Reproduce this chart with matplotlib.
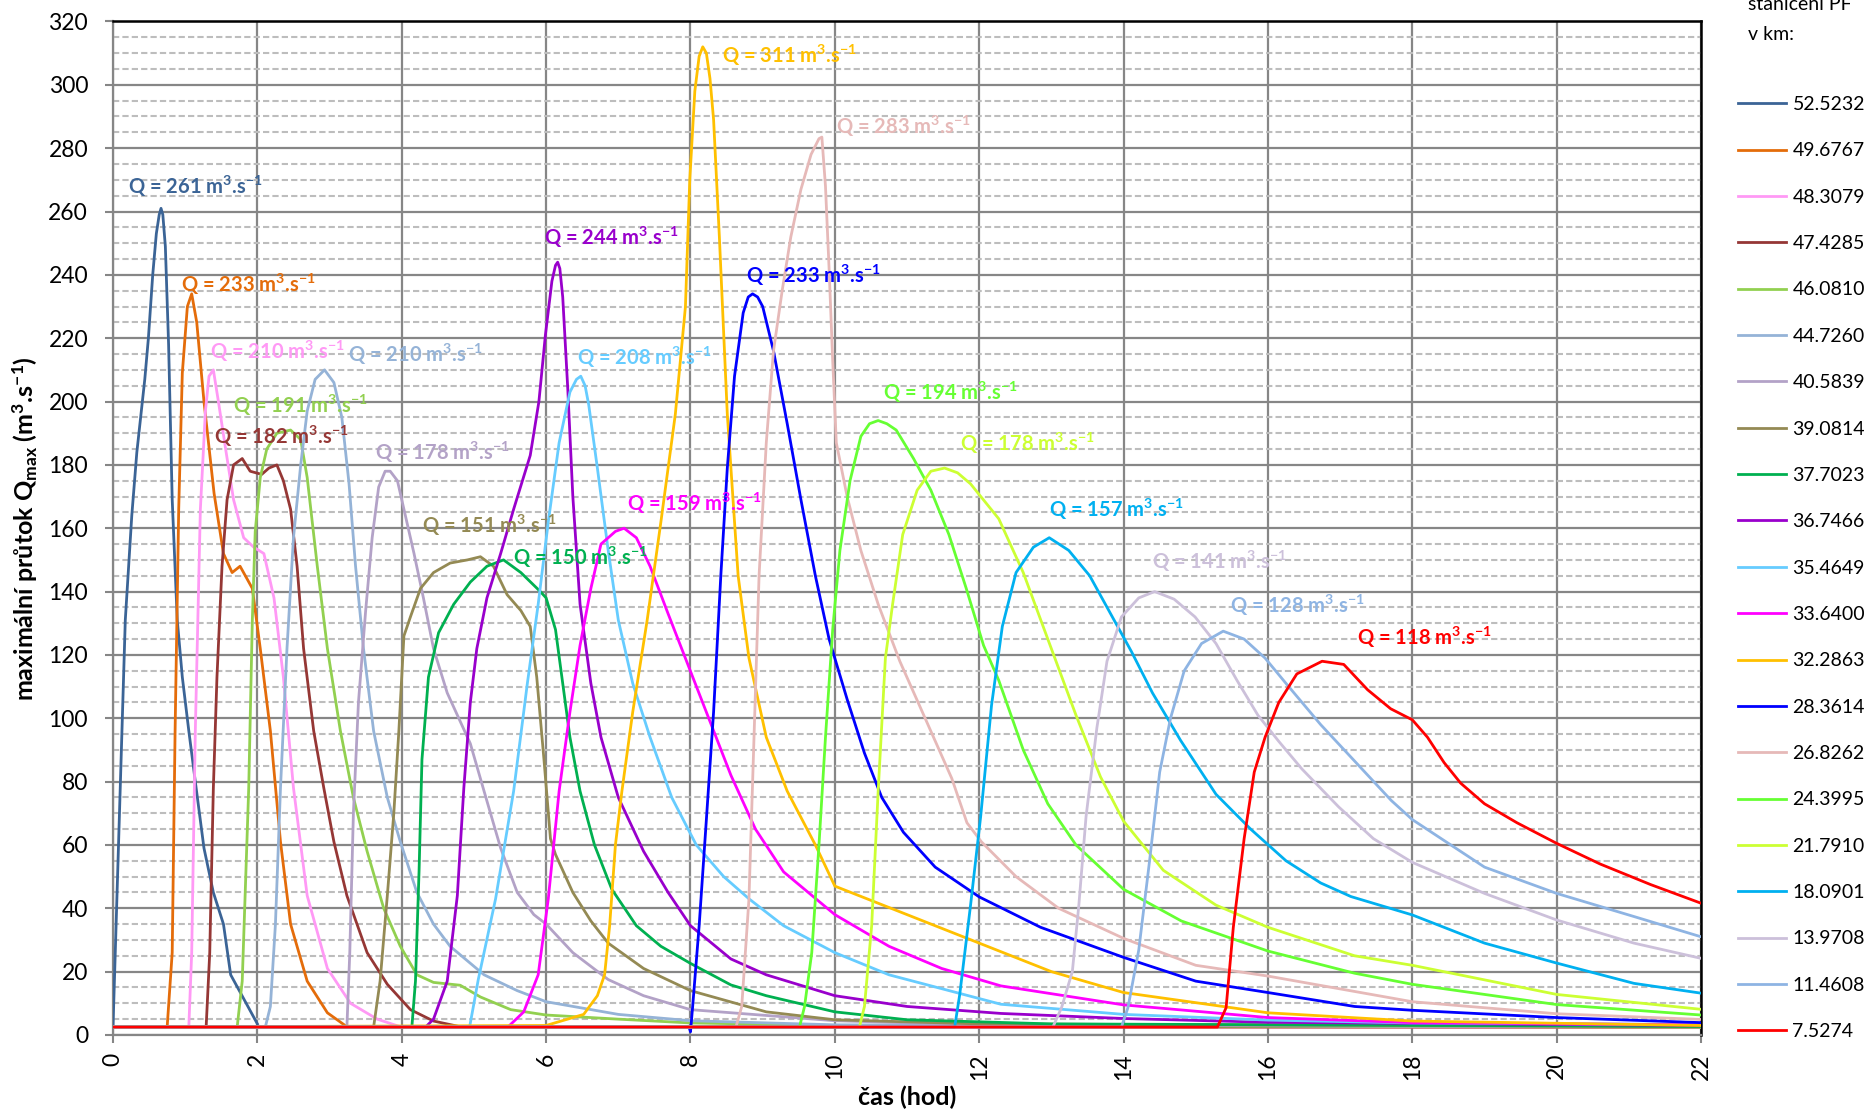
import matplotlib
matplotlib.use("Agg")
from matplotlib import pyplot as plt
from matplotlib.ticker import MultipleLocator

plt.rcParams['font.family'] = ['Lato', 'DejaVu Sans']
plt.rcParams['mathtext.default'] = 'regular'

# stations (km) in legend order, peak values and colours
stations = ['52.5232', '49.6767', '48.3079', '47.4285', '46.0810', '44.7260', '40.5839',
            '39.0814', '37.7023', '36.7466', '35.4649', '33.6400', '32.2863', '28.3614',
            '26.8262', '24.3995', '21.7910', '18.0901', '13.9708', '11.4608', '7.5274']
peaks = [261, 233, 210, 182, 191, 210, 178, 151, 150, 244, 208, 159, 311, 233, 283,
         194, 178, 157, 141, 128, 118]
colors = ['#3B6496', '#E46C0A', '#FF99F5', '#953735', '#92D050', '#95B3D7', '#B3A2C7',
          '#948A54', '#00B050', '#9900CC', '#66CCFF', '#FF00FF', '#FFC000', '#0000FF',
          '#E6B9B8', '#66FF33', '#CCFF33', '#00B0F0', '#CCC0DA', '#8EB4E3', '#FF0000']

# peak label positions (time, Q)
lab_t = [0.21, 0.94, 1.35, 1.40, 1.66, 3.25, 3.63, 4.28, 5.54, 5.97, 6.43, 7.12, 8.44,
         8.77, 10.02, 10.66, 11.73, 12.97, 14.39, 15.47, 17.24]
lab_q = [268, 237, 216, 189, 199, 215, 184, 161, 151, 252, 214, 168, 309.5, 240, 287,
         203, 187, 166, 149.5, 135.6, 125.5]

# hydrographs
t_52523 = [0, 0.10, 0.17, 0.26, 0.33, 0.44, 0.49, 0.55, 0.60, 0.64, 0.665, 0.69, 0.725,
           0.77, 0.82, 0.89, 0.96, 1.05, 1.14, 1.26, 1.39, 1.53, 1.63, 2.0]
q_52523 = [2.6, 78, 131, 164, 184, 207, 220, 240, 253, 259, 261, 259, 249, 218, 169,
           131, 113, 96, 80, 59, 45, 35, 19, 3.5]

t_49677 = [0, 0.75, 0.82, 0.86, 0.91, 0.96, 1.03, 1.09, 1.16, 1.26, 1.40, 1.53, 1.65,
           1.76, 1.93, 2.04, 2.18, 2.32, 2.46, 2.69, 2.97, 3.24, 22]
q_49677 = [2.5, 2.5, 26, 96, 166, 209, 230, 234, 225, 200, 171, 152, 146, 148, 141, 122,
           96, 61, 35, 17, 7, 2.6, 2.5]

t_48308 = [0, 1.05, 1.09, 1.14, 1.21, 1.28, 1.33, 1.39, 1.46, 1.56, 1.67, 1.81, 1.95,
           2.09, 2.23, 2.36, 2.50, 2.69, 2.97, 3.29, 3.66, 3.98, 22]
q_48308 = [2.5, 2.5, 26, 96, 166, 197, 208, 210, 200, 185, 169, 157, 154, 152, 138, 113,
           78, 44, 21, 10, 5, 2.6, 2.5]

t_47429 = [0, 1.29, 1.34, 1.39, 1.44, 1.51, 1.58, 1.67, 1.79, 1.90, 2.06, 2.16, 2.27,
           2.36, 2.46, 2.55, 2.64, 2.78, 2.92, 3.06, 3.24, 3.52, 3.80, 4.12, 4.44, 4.81, 22]
q_47429 = [2.5, 2.5, 26, 78, 113, 148, 169, 180, 182, 178, 177, 179, 180, 175, 166, 148,
           122, 96, 78, 61, 44, 26, 16, 8, 4.4, 2.6, 2.5]

t_46081 = [0, 1.72, 1.79, 1.83, 1.88, 1.93, 1.97, 2.04, 2.13, 2.27, 2.46, 2.60, 2.69,
           2.83, 2.97, 3.15, 3.33, 3.52, 3.75, 3.98, 4.21, 4.44, 4.81, 5.09, 5.51, 6.0,
           7.0, 8.0, 10.0, 22]
q_46081 = [2.5, 2.5, 17, 44, 78, 131, 159, 176, 185, 190, 191, 188, 176, 148, 122, 96,
           75, 58, 40, 28, 19, 16.6, 15.7, 12, 8, 6.3, 5, 3.8, 3, 2.5]

t_44726 = [0, 2.11, 2.18, 2.25, 2.32, 2.41, 2.50, 2.60, 2.69, 2.80, 2.93, 3.06, 3.17,
           3.27, 3.36, 3.47, 3.61, 3.80, 3.98, 4.21, 4.44, 4.67, 5.14, 5.60, 6.0, 7.0,
           8.0, 10.0, 22]
q_44726 = [2.5, 2.5, 9, 35, 78, 122, 157, 180, 197, 207, 210, 206, 195, 174, 148, 122,
           96, 75, 61, 45, 35, 28, 19, 14, 10.5, 6.5, 4.5, 3.2, 2.6]

t_40584 = [0, 3.24, 3.28, 3.33, 3.40, 3.50, 3.59, 3.68, 3.77, 3.84, 3.94, 4.03, 4.17,
           4.30, 4.44, 4.63, 4.81, 4.95, 5.14, 5.37, 5.60, 5.83, 6.0, 6.37, 6.86, 7.35,
           8.0, 10.0, 12.0, 22]
q_40584 = [2.5, 2.5, 26, 70, 105, 134, 157, 173, 178, 178, 175, 166, 152, 138, 122, 108,
           99, 92, 77, 59, 45, 38, 35, 26, 17.5, 12.4, 8, 4.5, 3.2, 2.6]

t_39081 = [0, 3.61, 3.70, 3.80, 3.89, 3.96, 4.03, 4.12, 4.26, 4.44, 4.67, 4.91, 5.09,
           5.27, 5.46, 5.65, 5.78, 5.87, 5.97, 6.06, 6.13, 6.37, 6.62, 6.86, 7.35, 8.0,
           9.05, 10.0, 12.0, 22]
q_39081 = [2.5, 2.5, 17, 44, 70, 96, 126, 132, 141, 146, 149, 150, 151, 148, 139, 134,
           129, 113, 87, 62, 57, 45, 36, 29, 21, 14, 7.3, 4.8, 3.5, 2.6]

t_37702 = [0, 4.14, 4.19, 4.24, 4.28, 4.37, 4.51, 4.72, 4.95, 5.18, 5.41, 5.65, 5.92,
           6.0, 6.13, 6.23, 6.33, 6.47, 6.67, 6.91, 7.25, 7.59, 8.0, 8.56, 9.05, 10.0,
           11.0, 13.0, 22]
q_37702 = [2.5, 2.5, 17, 52, 87, 113, 127, 136, 143, 148, 150, 146, 140, 138, 128, 111,
           94, 77, 60, 46, 34.5, 28, 22.6, 15.8, 12.4, 7.3, 4.8, 3.5, 2.7]

t_36747 = [0, 4.33, 4.44, 4.63, 4.77, 4.86, 4.95, 5.04, 5.18, 5.37, 5.55, 5.78, 5.90,
           5.99, 6.08, 6.13, 6.16, 6.19, 6.23, 6.30, 6.37, 6.47, 6.62, 6.76, 7.0, 7.35,
           7.69, 8.0, 8.56, 9.05, 10.0, 11.0, 12.3, 14.0, 16.0, 22]
q_36747 = [2.5, 2.5, 5, 17, 44, 78, 105, 122, 138, 152, 166, 183, 200, 221, 238, 243,
           244, 242, 233, 204, 170, 136, 111, 94, 75, 58, 45, 34.5, 24, 19, 12.4, 9, 6.8,
           5.2, 4, 3]

t_35465 = [0, 4.94, 5.06, 5.30, 5.55, 5.74, 5.89, 6.03, 6.18, 6.33, 6.42, 6.48, 6.54,
           6.59, 6.71, 6.86, 7.0, 7.2, 7.44, 7.74, 8.08, 8.46, 8.81, 9.29, 10.0, 10.75,
           12.3, 14.0, 16.0, 18.0, 22]
q_35465 = [2.5, 2.5, 17.5, 43, 77, 111, 136, 162, 187, 203, 207, 208, 205, 199, 179,
           153, 131, 111, 94, 75, 60, 50, 43, 34.5, 26, 19, 9.7, 6.5, 4.7, 3.8, 3.3]

t_33640 = [0, 5.47, 5.69, 5.89, 6.03, 6.18, 6.33, 6.47, 6.62, 6.76, 6.96, 7.08, 7.25,
           7.44, 7.69, 7.98, 8.27, 8.56, 8.90, 9.29, 10.0, 10.75, 11.48, 12.3, 14.0,
           16.0, 18.0, 22]
q_33640 = [2.5, 2.5, 7.3, 19, 43, 77, 102, 123, 141, 155, 159, 160, 157, 148, 133, 116,
           99, 82, 65, 51.5, 38, 28, 21, 15.5, 9.5, 5.5, 3.9, 3.2]

t_32286 = [0, 6.0, 6.52, 6.71, 6.81, 6.88, 6.96, 7.05, 7.20, 7.40, 7.59, 7.79, 7.93,
           7.99, 8.06, 8.12, 8.17, 8.22, 8.27, 8.32, 8.40, 8.51, 8.66, 8.81, 9.05, 9.34,
           9.73, 10.0, 11.0, 12.0, 13.0, 14.0, 16.0, 18.0, 22]
q_32286 = [2.5, 3, 6.5, 12.4, 19, 34.5, 60, 77, 102, 131, 162, 196, 230, 270, 298,
           309, 312, 310, 302, 289, 252, 196, 145, 119, 94, 77, 60, 47, 38, 29, 20, 13.4,
           7, 4.4, 3]

t_28361 = [0, 7.98, 8.0, 8.03, 8.12, 8.22, 8.32, 8.42, 8.51, 8.61, 8.73, 8.80, 8.86,
           8.93, 9.0, 9.15, 9.34, 9.53, 9.73, 9.92, 10.17, 10.41, 10.65, 10.95, 11.39,
           12.0, 12.85, 14.0, 15.0, 16.0, 17.2, 18.0, 20.0, 22]
q_28361 = [2.5, 2.5, 1.0, 9, 34.5, 68, 102, 145, 179, 208, 228, 233, 234, 233, 230, 216,
           193, 169, 145, 125, 106, 89, 75, 64, 53, 43.6, 34, 24.5, 17, 13.4, 9, 7.8,
           5.5, 3.9]

t_26826 = [0, 8.63, 8.71, 8.81, 8.88, 8.95, 9.05, 9.15, 9.27, 9.39, 9.53, 9.67, 9.78,
           9.82, 9.87, 9.92, 9.97, 10.02, 10.17, 10.36, 10.6, 10.9, 11.27, 11.62, 11.83,
           12.03, 12.51, 13.1, 14.0, 15.0, 16.0, 18.0, 20.0, 22]
q_26826 = [2.5, 2.5, 9, 43, 94, 145, 187, 216, 235, 252, 267, 278, 283, 283.5, 268, 242,
           213, 187, 170, 153, 136, 118, 99, 81, 67, 61, 50, 40, 30.5, 22, 18.6, 10.5,
           6.7, 4.9]

t_24400 = [0, 9.51, 9.58, 9.68, 9.78, 9.87, 9.97, 10.07, 10.21, 10.36, 10.48, 10.60,
           10.72, 10.85, 11.09, 11.33, 11.58, 11.82, 12.06, 12.27, 12.61, 12.95, 13.34,
           14.0, 14.8, 16.0, 17.2, 18.0, 20.0, 22]
q_24400 = [2.5, 2.5, 9, 26, 60, 94, 128, 153, 175, 189, 193, 194, 193, 191, 182, 172,
           158, 141, 123, 112, 90, 73, 60, 46, 36, 26.5, 19.5, 16, 9.6, 6.3]

t_21791 = [0, 10.34, 10.41, 10.51, 10.6, 10.7, 10.8, 10.94, 11.14, 11.33, 11.52, 11.70,
           11.88, 12.27, 12.61, 12.95, 13.34, 13.68, 14.0, 14.55, 15.28, 16.0, 17.2,
           18.0, 20.0, 22]
q_21791 = [2.5, 2.5, 9, 34.5, 77, 119, 136, 158, 172, 178, 179, 177.5, 174, 163, 146,
           125, 101, 81.5, 67.5, 52, 41, 34, 25, 22, 12.8, 8.1]

t_18090 = [0, 11.66, 11.73, 11.88, 12.02, 12.17, 12.32, 12.51, 12.75, 12.97, 13.24,
           13.53, 13.82, 14.11, 14.40, 14.79, 15.28, 15.76, 16.25, 16.73, 17.15, 18.0,
           19.0, 20.0, 21.07, 22]
q_18090 = [2.5, 2.5, 12.8, 41, 69, 104, 129, 146, 154, 157, 153, 145, 133, 121, 108, 93,
           76, 65, 55, 48, 43.7, 37.9, 29, 22.7, 16.3, 13.2]

t_13971 = [0, 13.02, 13.14, 13.29, 13.38, 13.48, 13.63, 13.77, 13.97, 14.21, 14.43,
           14.70, 14.99, 15.28, 15.57, 15.86, 16.15, 16.47, 16.98, 17.46, 18.0, 19.0,
           20.0, 21.07, 22]
q_13971 = [2.5, 2.5, 8.6, 20, 41, 69, 97, 118, 132, 138, 140, 137.6, 132, 123.6, 112,
           101, 92.7, 84, 72, 62, 54.5, 44.7, 36.3, 29, 24.2]

t_11461 = [0, 13.97, 14.06, 14.21, 14.36, 14.50, 14.65, 14.84, 15.08, 15.38, 15.67,
           15.96, 16.25, 16.73, 17.22, 17.71, 18.0, 19.0, 20.0, 21.07, 22]
q_11461 = [2.5, 2.5, 8.6, 26.8, 55, 83, 100, 115, 123.6, 127.5, 125, 119, 111, 98, 86,
           74, 68, 53, 44.7, 37.4, 31]

t_7527 = [0, 15.3, 15.42, 15.52, 15.67, 15.81, 15.96, 16.15, 16.4, 16.75, 17.05, 17.38,
          17.7, 18.0, 18.21, 18.44, 18.67, 19.0, 19.45, 20.0, 20.6, 21.3, 22]
q_7527 = [2.5, 2.5, 8.6, 34, 62, 83, 94, 105, 114, 118, 117, 109, 103, 99.5, 94, 86,
          79.5, 73, 67, 60.5, 54, 47.5, 41.6]

times = [t_52523, t_49677, t_48308, t_47429, t_46081, t_44726, t_40584, t_39081,
         t_37702, t_36747, t_35465, t_33640, t_32286, t_28361, t_26826, t_24400,
         t_21791, t_18090, t_13971, t_11461, t_7527]
flows = [q_52523, q_49677, q_48308, q_47429, q_46081, q_44726, q_40584, q_39081,
         q_37702, q_36747, q_35465, q_33640, q_32286, q_28361, q_26826, q_24400,
         q_21791, q_18090, q_13971, q_11461, q_7527]

fig = plt.figure(figsize=(18.65, 11.13), dpi=100)
ax = fig.add_axes([0.0606, 0.0701, 0.8515, 0.9106])

for i in range(len(stations)):
    ax.plot(times[i], flows[i], color=colors[i], lw=2.0, label=stations[i], zorder=3 + i * 0.01)
    ax.text(lab_t[i], lab_q[i] - 2.5,
            'Q = %d m$^{\\mathregular{3}}$.s$^{\\mathregular{-1}}$' % peaks[i],
            color=colors[i], fontsize=14.5, fontweight='bold', ha='left', va='baseline',
            zorder=5)

ax.set_xlim(0, 22)
ax.set_ylim(0, 320)
ax.xaxis.set_major_locator(MultipleLocator(2))
ax.yaxis.set_major_locator(MultipleLocator(20))
ax.yaxis.set_minor_locator(MultipleLocator(5))
ax.grid(which='major', color='#868686', lw=1.6, zorder=1)
ax.grid(which='minor', axis='y', color='#BDBDBD', lw=1.5, ls=(0, (3, 1.5)), zorder=1)
ax.tick_params(which='major', direction='out', length=6, width=1.5, color='#868686',
               labelsize=16.5)
ax.tick_params(axis='y', pad=12)
ax.tick_params(axis='x', pad=7)
ax.tick_params(which='minor', length=0)
plt.setp(ax.get_xticklabels(), rotation=90)

for side in ['left', 'bottom']:
    ax.spines[side].set_color('#868686')
    ax.spines[side].set_linewidth(1.6)
for side in ['top', 'right']:
    ax.spines[side].set_color('black')
    ax.spines[side].set_linewidth(1.8)

ax.set_xlabel('čas (hod)', fontsize=18, fontweight='bold', labelpad=4)
ax.set_ylabel('maximální průtok Q$_{\\mathregular{max}}$ (m$^{\\mathregular{3}}$.s$^{\\mathregular{-1}}$)',
              fontsize=18, fontweight='bold', labelpad=6)

leg = ax.legend(loc='upper left', bbox_to_anchor=(1738 / 1865, 1 - 96 / 1113),
                bbox_transform=fig.transFigure, frameon=False, fontsize=14,
                handlelength=2.45, handletextpad=0.35, labelspacing=1.51,
                borderaxespad=0, borderpad=0)
fig.text(1748 / 1865, 1 - 5 / 1113, 'staničení PF', fontsize=14, va='center', ha='left')
fig.text(1748 / 1865, 1 - 35 / 1113, 'v km:', fontsize=14, va='center', ha='left')

fig.savefig('out.png', dpi=100)
